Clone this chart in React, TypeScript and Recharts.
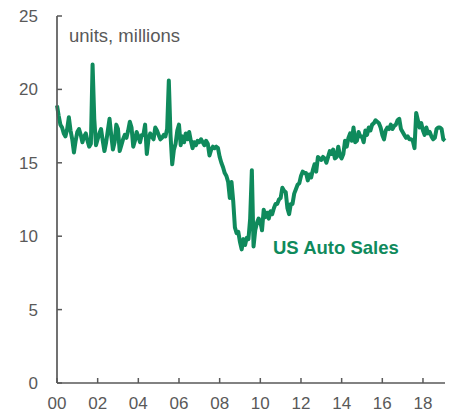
import { LineChart, Line, XAxis, YAxis } from 'recharts';

// US total vehicle sales, SAAR, millions of units, monthly Jan 2000 .. Feb 2019
const sales2000 = [18.9, 18.2, 17.6, 17.4, 17.0, 16.8, 17.3, 18.1, 17.2, 16.6, 15.7, 16.5];
const sales2001 = [17.1, 17.3, 16.9, 16.4, 16.8, 17.0, 16.5, 16.1, 16.3, 21.7, 18.0, 16.2];
const sales2002 = [16.6, 17.0, 17.3, 16.5, 15.8, 16.4, 17.2, 18.0, 16.9, 15.9, 16.4, 17.6];
const sales2003 = [17.3, 15.8, 16.2, 16.6, 16.9, 16.7, 17.2, 17.8, 17.4, 16.1, 16.5, 17.1];
const sales2004 = [16.8, 16.4, 16.9, 16.9, 17.6, 15.6, 16.6, 17.0, 16.8, 16.6, 17.4, 17.2];
const sales2005 = [16.9, 16.6, 16.7, 16.9, 16.8, 17.3, 20.6, 16.9, 14.9, 15.9, 16.3, 17.2];
const sales2006 = [17.6, 16.2, 16.8, 16.4, 17.0, 16.6, 17.1, 16.5, 16.0, 16.4, 16.2, 16.5];
const sales2007 = [16.4, 16.6, 16.4, 16.2, 16.5, 16.3, 15.5, 15.9, 16.1, 16.0, 16.1, 16.0];
const sales2008 = [15.4, 15.0, 14.7, 14.3, 14.1, 13.7, 12.6, 13.7, 12.4, 10.6, 10.2, 10.3];
const sales2009 = [9.6, 9.1, 9.8, 9.4, 9.9, 9.8, 11.2, 14.5, 9.3, 10.4, 10.9, 11.2];
const sales2010 = [11.0, 10.4, 11.8, 11.3, 11.6, 11.2, 11.7, 11.5, 11.9, 12.2, 12.2, 12.5];
const sales2011 = [12.6, 13.3, 13.1, 13.0, 11.9, 11.5, 12.2, 12.2, 12.9, 13.2, 13.5, 13.6];
const sales2012 = [14.1, 14.4, 14.3, 14.3, 13.8, 14.2, 14.0, 14.5, 14.9, 14.4, 15.4, 15.3];
const sales2013 = [15.2, 15.4, 15.3, 15.0, 15.4, 15.8, 15.6, 15.9, 15.3, 15.4, 16.1, 15.5];
const sales2014 = [15.3, 15.6, 16.5, 16.1, 16.7, 17.0, 16.5, 17.4, 16.4, 16.5, 17.1, 16.8];
const sales2015 = [16.8, 16.4, 17.2, 16.9, 17.4, 17.2, 17.6, 17.7, 17.9, 17.8, 17.7, 17.4];
const sales2016 = [16.9, 16.6, 17.2, 17.4, 17.3, 17.6, 17.3, 17.5, 17.6, 17.9, 18.0, 17.3];
const sales2017 = [17.1, 16.9, 16.7, 16.8, 16.6, 16.6, 16.5, 16.0, 18.4, 17.9, 17.4, 17.7];
const sales2018 = [17.2, 16.9, 17.4, 17.0, 17.1, 16.8, 16.6, 16.7, 17.3, 17.4, 17.4, 17.3];
const sales2019 = [16.6, 16.5];

const xTickLabels = ['00', '02', '04', '06', '08', '10', '12', '14', '16', '18'];
const yTicks = [0, 5, 10, 15, 20, 25];

const monthly = [
  ...sales2000, ...sales2001, ...sales2002, ...sales2003, ...sales2004,
  ...sales2005, ...sales2006, ...sales2007, ...sales2008, ...sales2009,
  ...sales2010, ...sales2011, ...sales2012, ...sales2013, ...sales2014,
  ...sales2015, ...sales2016, ...sales2017, ...sales2018, ...sales2019,
];

const data = monthly.map((v, i) => ({ m: i, sales: v }));
const xTicks = xTickLabels.map((_, i) => i * 24);

const GREEN = '#0f8a5c';
const GREY = '#595959';
const FONT = '"Liberation Sans", Arial, sans-serif';

export default function App() {
  return (
    <div style={{ position: 'absolute', left: 0, top: 0, width: 452, height: 413, fontFamily: FONT }}>
      <LineChart width={452} height={413} data={data} margin={{ top: 16, right: 7, bottom: 0, left: 0 }}>
        <XAxis
          dataKey="m"
          type="number"
          domain={[0, monthly.length - 1]}
          ticks={xTicks}
          tickFormatter={(v: number) => xTickLabels[v / 24]}
          height={30}
          tickSize={-5}
          tickMargin={19}
          axisLine={{ stroke: GREY, strokeWidth: 1.7 }}
          tickLine={{ stroke: GREY, strokeWidth: 1.5 }}
          tick={{ fill: GREY, fontSize: 17, fontFamily: FONT }}
          interval={0}
        />
        <YAxis
          domain={[0, 25]}
          ticks={yTicks}
          width={57}
          tickSize={-5}
          tickMargin={24}
          axisLine={{ stroke: GREY, strokeWidth: 1.7 }}
          tickLine={{ stroke: GREY, strokeWidth: 1.5 }}
          tick={{ fill: GREY, fontSize: 17, fontFamily: FONT }}
          interval={0}
        />
        <Line
          type="linear"
          dataKey="sales"
          stroke={GREEN}
          strokeWidth={4}
          strokeLinejoin="round"
          dot={false}
          isAnimationActive={false}
        />
      </LineChart>
      <div style={{ position: 'absolute', left: 69, top: 27, fontSize: 18.5, lineHeight: '18.5px', color: GREY, whiteSpace: 'nowrap' }}>
        units, millions
      </div>
      <div style={{ position: 'absolute', left: 273, top: 239, fontSize: 18.5, lineHeight: '18.5px', fontWeight: 'bold', color: GREEN, whiteSpace: 'nowrap' }}>
        US Auto Sales
      </div>
    </div>
  );
}
